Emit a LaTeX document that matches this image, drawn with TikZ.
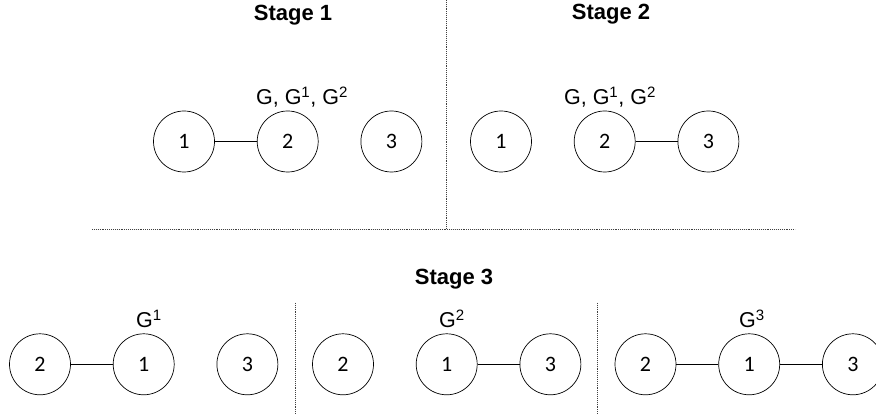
\documentclass[tikz,border=0pt]{standalone}
\usepackage{fontspec}
\setmainfont{Liberation Sans}
\newfontfamily\numfont{Carlito}
\usetikzlibrary{positioning}

\begin{document}
\begin{tikzpicture}[x=1pt, y=1pt,
    vertex/.style={circle, draw, line width=0.7pt, minimum size=61pt, inner sep=0pt,
        font=\numfont\fontsize{22}{24}\selectfont},
    title/.style={anchor=base, font=\bfseries\fontsize{22}{26}\selectfont},
    lbl/.style={anchor=base, font=\fontsize{21.5}{24}\selectfont},
    sep/.style={densely dotted, line width=0.9pt, black!75},
    node distance=42pt]

    \useasboundingbox (0,0) rectangle (876,414);

    % dividers
    \draw[sep] (446,414) -- (446,185);
    \draw[sep] (92,185) -- (795,185);
    \draw[sep] (295,111) -- (295,0);
    \draw[sep] (597.5,111) -- (597.5,0);

    \node[title] (T1) at (293,393.5) {Stage 1};
    \node[title] (T2) at (611,394) {Stage 2};
    \node[title] (T3) at (454,129) {Stage 3};

    % stage 1
    \node[vertex] (A1) at (184,272.5) {1};
    \node[vertex] (A2) [right=of A1] {2};
    \node[vertex] (A3) [right=of A2] {3};
    \node[lbl] (LA) at (302,309) {G, G\textsuperscript{1}, G\textsuperscript{2}};
    \draw (A1) -- (A2);

    % stage 2
    \node[vertex] (B1) at (501,272.5) {1};
    \node[vertex] (B2) [right=of B1] {2};
    \node[vertex] (B3) [right=of B2] {3};
    \node[lbl] (LB) at (610,309) {G, G\textsuperscript{1}, G\textsuperscript{2}};
    \draw (B2) -- (B3);

    % stage 3
    \node[vertex] (C2) at (40,49.7) {2};
    \node[vertex] (C1) [right=of C2] {1};
    \node[vertex] (C3) [right=of C1] {3};
    \node[lbl] (LC) at (149,86.3) {G\textsuperscript{1}};
    \draw (C2) -- (C1);

    \node[vertex] (D2) at (343,49.7) {2};
    \node[vertex] (D1) [right=of D2] {1};
    \node[vertex] (D3) [right=of D1] {3};
    \node[lbl] (LD) at (452,86.3) {G\textsuperscript{2}};
    \draw (D1) -- (D3);

    \node[vertex] (E2) at (645.5,49.7) {2};
    \node[vertex] (E1) [right=of E2] {1};
    \node[vertex] (E3) [right=of E1] {3};
    \node[lbl] (LE) at (752,86.3) {G\textsuperscript{3}};
    \draw (E2) -- (E1);
    \draw (E1) -- (E3);
\end{tikzpicture}
\end{document}
